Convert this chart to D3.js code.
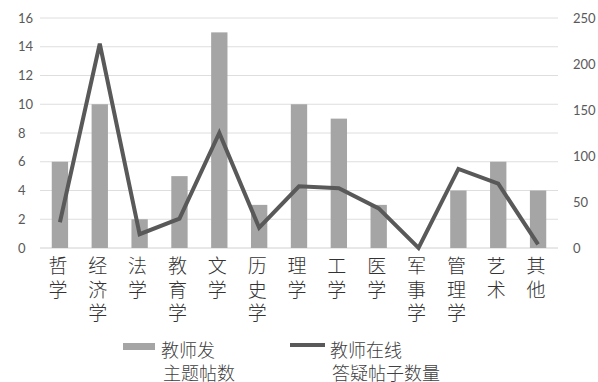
<!DOCTYPE html>
<html>
<head>
<meta charset="utf-8">
<script src="https://cdn.jsdelivr.net/npm/d3@7/dist/d3.min.js"></script>
<style>
  html, body { margin: 0; padding: 0; background: #fff; }
  svg { display: block; }
</style>
</head>
<body>
<svg id="chart" width="598" height="382"></svg>
<script>
// Disciplines (x axis), one label character per line
const categories = ["哲学", "经济学", "法学", "教育学", "文学", "历史学", "理学", "工学", "医学", "军事学", "管理学", "艺术", "其他"];
// Bars: topic posts started by teachers (left axis)
const topicPosts = [6, 10, 2, 5, 15, 3, 10, 9, 3, 0, 4, 6, 4];
// Line: teacher answer posts online (right axis)
const answerPosts = [28, 222, 15, 32, 125, 22, 67, 65, 43, 0, 86, 70, 4];
// Axis ticks
const leftTicks = [0, 2, 4, 6, 8, 10, 12, 14, 16];
const rightTicks = [0, 50, 100, 150, 200, 250];
// Legend
const legendBar = ["教师发", "主题帖数"];
const legendLine = ["教师在线", "答疑帖子数量"];

const svg = d3.select("#chart");
const plotLeft = 40, plotRight = 558, plotTop = 18, plotBottom = 248;

const x = d3.scaleBand().domain(categories).range([plotLeft, plotRight]).padding(0);
const yL = d3.scaleLinear().domain([0, 16]).range([plotBottom, plotTop]);
const yR = d3.scaleLinear().domain([0, 250]).range([plotBottom, plotTop]);

const tickFont = "Lato, 'Open Sans', sans-serif";
const cjkFont = "'Noto Sans CJK SC', sans-serif";

// Gridlines
svg.append("g").selectAll("line").data(leftTicks).join("line")
  .attr("x1", plotLeft).attr("x2", plotRight)
  .attr("y1", d => yL(d)).attr("y2", d => yL(d))
  .attr("stroke", d => d === 0 ? "#d0d0d0" : "#dedede")
  .attr("stroke-width", 1);

// Left tick labels
svg.append("g").selectAll("text").data(leftTicks).join("text")
  .attr("x", 18).attr("y", d => yL(d))
  .attr("dy", "0.36em")
  .attr("font-family", tickFont).attr("font-size", 13)
  .attr("fill", "#595959")
  .text(d => d);

// Right tick labels
svg.append("g").selectAll("text").data(rightTicks).join("text")
  .attr("x", 573).attr("y", d => yR(d))
  .attr("dy", "0.36em")
  .attr("font-family", tickFont).attr("font-size", 13)
  .attr("fill", "#595959")
  .text(d => d);

// Bars
const barW = x.bandwidth() * 0.41;
svg.append("g").selectAll("rect").data(categories).join("rect")
  .attr("x", d => x(d) + x.bandwidth() / 2 - barW / 2)
  .attr("y", (d, i) => yL(topicPosts[i]))
  .attr("width", barW)
  .attr("height", (d, i) => plotBottom - yL(topicPosts[i]))
  .attr("fill", "#a5a5a5");

// Line
const line = d3.line()
  .x((d, i) => x(categories[i]) + x.bandwidth() / 2)
  .y(d => yR(d));
svg.append("path").datum(answerPosts)
  .attr("d", line)
  .attr("fill", "none")
  .attr("stroke", "#595959")
  .attr("stroke-width", 4)
  .attr("stroke-linejoin", "miter");

// Category labels, stacked vertically
const labels = svg.append("g").selectAll("text").data(categories).join("text")
  .attr("font-family", cjkFont).attr("font-size", 19)
  .attr("font-weight", 300)
  .attr("fill", "#333")
  .attr("text-anchor", "middle");
labels.each(function (d) {
  const cx = x(d) + x.bandwidth() / 2 - 2;
  d3.select(this).selectAll("tspan").data(Array.from(d)).join("tspan")
    .attr("x", cx)
    .attr("y", (c, j) => 273 + j * 23.5)
    .text(c => c);
});

// Legend
const lg = svg.append("g");
lg.append("rect").attr("x", 123).attr("y", 343).attr("width", 32).attr("height", 7).attr("fill", "#a5a5a5");
lg.append("line").attr("x1", 290).attr("x2", 325).attr("y1", 345).attr("y2", 345)
  .attr("stroke", "#595959").attr("stroke-width", 4);
function legendText(lines, x0) {
  lg.append("text")
    .attr("font-family", cjkFont).attr("font-size", 18).attr("font-weight", 300)
    .attr("fill", "#404040")
    .selectAll("tspan").data(lines).join("tspan")
    .attr("x", (d, j) => x0 + j * 2)
    .attr("y", (d, j) => 357 + j * 23)
    .text(d => d);
}
legendText(legendBar, 161);
legendText(legendLine, 330);
</script>
</body>
</html>
